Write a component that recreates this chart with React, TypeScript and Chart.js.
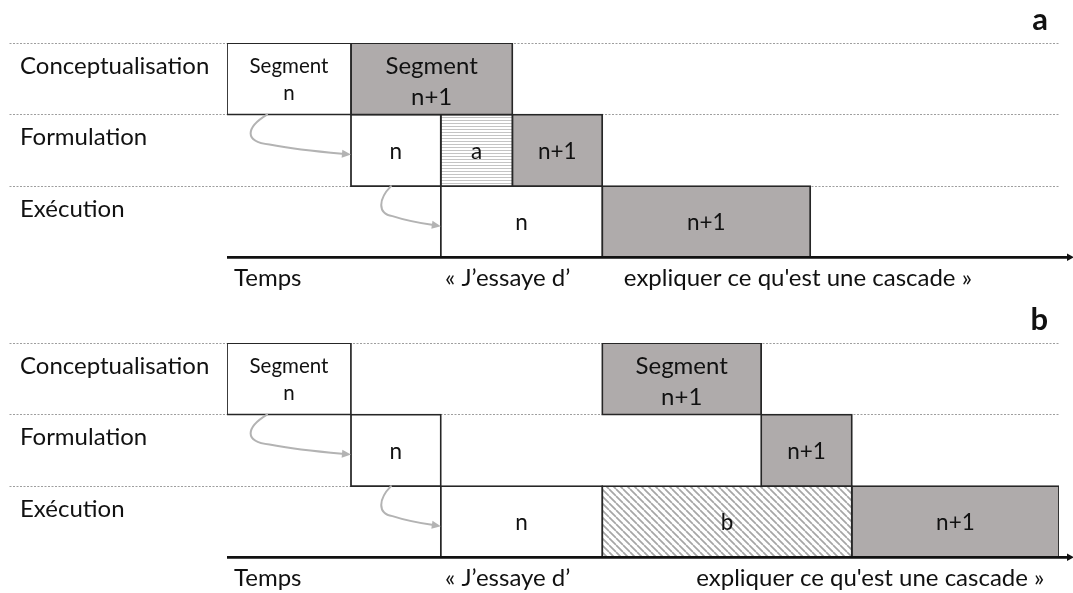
import React, { useEffect, useRef } from 'react';
import { Chart, registerables } from 'chart.js';

Chart.register(...registerables);

// ---------- data ----------
const ROWS = ['Conceptualisation', 'Formulation', 'Exécution'];
const TIME_MIN = 0;
const TIME_MAX = 100;

// panel a : one entry per box
const A_ROW = [0, 0, 1, 1, 1, 2, 2];
const A_START = [0, 14.9, 14.9, 25.7, 34.3, 25.7, 45.1];
const A_END = [14.9, 34.3, 25.7, 34.3, 45.1, 45.1, 70.1];
const A_TEXT = ['Segment\nn', 'Segment\nn+1', 'n', 'a', 'n+1', 'n', 'n+1'];
const A_KIND = ['current', 'next', 'current', 'pauseA', 'next', 'current', 'next'];
const A_WORD_AT = [0.84, 26.2, 47.7];
const A_WORDS = ['Temps', '« J’essaye d’', "expliquer ce qu'est une cascade »"];

// panel b : one entry per box
const B_ROW = [0, 0, 1, 1, 2, 2, 2];
const B_START = [0, 45.1, 14.9, 64.2, 25.7, 45.1, 75.1];
const B_END = [14.9, 64.2, 25.7, 75.1, 45.1, 75.1, 100];
const B_TEXT = ['Segment\nn', 'Segment\nn+1', 'n', 'n+1', 'n', 'b', 'n+1'];
const B_KIND = ['current', 'next', 'current', 'next', 'current', 'pauseB', 'next'];
const B_WORD_AT = [0.84, 26.2, 56.4];
const B_WORDS = ['Temps', '« J’essaye d’', "expliquer ce qu'est une cascade »"];

// ---------- styles ----------
const FONT = 'Lato, "Open Sans", sans-serif';
const TEXT = '#111111';
const GRAY = '#afabab';
const BORDER = '#262626';
const ARROW = '#b3b3b3';

function hatchH(): CanvasPattern | string {
  const c = document.createElement('canvas');
  c.width = 4;
  c.height = 3;
  const g = c.getContext('2d');
  if (!g) return '#eee';
  g.fillStyle = '#ffffff';
  g.fillRect(0, 0, 4, 3);
  g.fillStyle = '#c4c4c4';
  g.fillRect(0, 0, 4, 1);
  return g.createPattern(c, 'repeat') || '#eee';
}

function hatchD(): CanvasPattern | string {
  const s = 7;
  const c = document.createElement('canvas');
  c.width = s;
  c.height = s;
  const g = c.getContext('2d');
  if (!g) return '#ddd';
  g.fillStyle = '#ffffff';
  g.fillRect(0, 0, s, s);
  g.strokeStyle = '#a6a6a6';
  g.lineWidth = 1.7;
  g.beginPath();
  g.moveTo(0, 0);
  g.lineTo(s, s);
  g.moveTo(-s, 0);
  g.lineTo(0, s);
  g.moveTo(s, 0);
  g.lineTo(2 * s, s);
  g.stroke();
  return g.createPattern(c, 'repeat') || '#ddd';
}

function drawArrow(ctx: CanvasRenderingContext2D, sx: number, sy: number, ex: number, ey: number) {
  const W = ex - sx;
  const H = ey - sy;
  const P = (u: number, v: number) => [sx + u * W, sy + v * H];
  const [c1x, c1y] = P(-0.25, 0.32);
  const [c2x, c2y] = P(-0.28, 0.68);
  const [mx, my] = P(0.03, 0.75);
  const [qx, qy] = P(0.35, 0.88);
  const ang = Math.atan2(ey - qy, ex - qx);
  const hl = 9;
  const hw = 4;
  const bx = ex - hl * Math.cos(ang);
  const by = ey - hl * Math.sin(ang);
  ctx.save();
  ctx.strokeStyle = ARROW;
  ctx.fillStyle = ARROW;
  ctx.lineWidth = 2;
  ctx.lineCap = 'round';
  ctx.beginPath();
  ctx.moveTo(sx, sy);
  ctx.bezierCurveTo(c1x, c1y, c2x, c2y, mx, my);
  ctx.quadraticCurveTo(qx, qy, bx, by);
  ctx.stroke();
  ctx.beginPath();
  ctx.moveTo(ex, ey);
  ctx.lineTo(bx - hw * Math.sin(ang), by + hw * Math.cos(ang));
  ctx.lineTo(bx + hw * Math.sin(ang), by - hw * Math.cos(ang));
  ctx.closePath();
  ctx.fill();
  ctx.restore();
}

type PanelProps = {
  letter: string;
  top: number;
  rows: number[];
  starts: number[];
  ends: number[];
  texts: string[];
  kinds: string[];
  wordAt: number[];
  words: string[];
};

function Panel(props: PanelProps) {
  const ref = useRef<HTMLCanvasElement | null>(null);

  useEffect(() => {
    const canvas = ref.current;
    if (!canvas) return;
    const { letter, rows, starts, ends, texts, kinds, wordAt, words } = props;
    const fills: Record<string, any> = {
      current: '#ffffff',
      next: GRAY,
      pauseA: hatchH(),
      pauseB: hatchD(),
    };

    const datasets = rows.map((r, i) => ({
      label: texts[i],
      data: ROWS.map((_, k) => (k === r ? [starts[i], ends[i]] : null)),
      backgroundColor: fills[kinds[i]],
      borderColor: BORDER,
      borderWidth: 1.8,
      borderSkipped: false,
      inflateAmount: 0.9,
      grouped: false,
      barPercentage: 1,
      categoryPercentage: 1,
    }));

    const decor = {
      id: 'decor',
      afterDatasetsDraw(chart: any) {
        const ctx: CanvasRenderingContext2D = chart.ctx;
        const area = chart.chartArea;
        const boxes = rows.map((r, i) => {
          const el = chart.getDatasetMeta(i).data[r];
          const p = el.getProps(['x', 'y', 'base', 'height'], true);
          return {
            row: r,
            kind: kinds[i],
            text: texts[i],
            left: Math.min(p.x, p.base),
            right: Math.max(p.x, p.base),
            top: p.y - p.height / 2,
            bottom: p.y + p.height / 2,
            cx: (p.x + p.base) / 2,
            cy: p.y,
          };
        });

        // arrows between the "current" segment boxes
        for (let r = 0; r < ROWS.length - 1; r++) {
          const a = boxes.find((b) => b.row === r && b.kind === 'current');
          const b = boxes.find((bb) => bb.row === r + 1 && bb.kind === 'current');
          if (a && b) drawArrow(ctx, a.left + 40, a.bottom, b.left, a.bottom + 40);
        }

        // labels inside boxes
        ctx.save();
        ctx.fillStyle = TEXT;
        ctx.textAlign = 'center';
        ctx.textBaseline = 'alphabetic';
        boxes.forEach((b) => {
          const lines = b.text.split('\n');
          if (lines.length > 1) {
            const small = b.kind === 'current';
            const size = small ? 20.5 : 24;
            const offs = small ? [-5.5, 21] : [-5, 26];
            ctx.font = `${size}px ${FONT}`;
            lines.forEach((ln, k) => ctx.fillText(ln, b.cx, b.cy + offs[k]));
          } else {
            ctx.font = `22.5px ${FONT}`;
            ctx.fillText(b.text, b.cx, b.cy + 8.5);
          }
        });
        ctx.restore();

        // time axis with arrow head
        ctx.save();
        const y = area.bottom - 0.4;
        ctx.strokeStyle = '#111';
        ctx.fillStyle = '#111';
        ctx.lineWidth = 2.7;
        ctx.beginPath();
        ctx.moveTo(area.left, y);
        ctx.lineTo(chart.width - 5, y);
        ctx.stroke();
        ctx.beginPath();
        ctx.moveTo(chart.width - 6, y - 3.8);
        ctx.lineTo(chart.width + 1, y);
        ctx.lineTo(chart.width - 6, y + 3.8);
        ctx.closePath();
        ctx.fill();
        ctx.restore();

        // panel letter
        ctx.save();
        ctx.fillStyle = TEXT;
        ctx.font = `bold 31px ${FONT}`;
        ctx.textAlign = 'right';
        ctx.textBaseline = 'alphabetic';
        ctx.fillText(letter, 1048, 29.5);
        ctx.restore();
      },
    };

    const chart = new Chart(canvas, {
      type: 'bar',
      data: { labels: ROWS, datasets: datasets as any },
      options: {
        indexAxis: 'y',
        responsive: false,
        animation: false,
        events: [],
        layout: { padding: { left: 20, right: 14, top: 43, bottom: 0 } },
        plugins: {
          legend: { display: false },
          tooltip: { enabled: false },
          title: { display: false },
        },
        scales: {
          x: {
            type: 'linear',
            position: 'bottom',
            min: TIME_MIN,
            max: TIME_MAX,
            grid: { display: false, drawTicks: false },
            border: { display: false },
            afterBuildTicks: (s: any) => {
              s.ticks = wordAt.map((v) => ({ value: v }));
            },
            afterFit: (s: any) => {
              s.height = 300 - 257.7;
              s.paddingLeft = 0;
              s.paddingRight = 0;
            },
            ticks: {
              align: 'start',
              autoSkip: false,
              maxRotation: 0,
              minRotation: 0,
              padding: 6.3,
              color: TEXT,
              font: { family: FONT, size: 24 },
              callback: (_v: any, i: number) => words[i],
            },
          },
          y: {
            type: 'category',
            position: 'left',
            offset: true,
            grid: {
              offset: true,
              drawOnChartArea: true,
              drawTicks: true,
              tickLength: 217.5,
              lineWidth: 1,
              color: (c: any) => (c.type === 'tick' ? '#9e9e9e' : 'rgba(0,0,0,0)'),
              tickColor: (c: any) => (c.type === 'tick' ? '#9e9e9e' : 'rgba(0,0,0,0)'),
              tickBorderDash: [2, 1.5],
            },
            border: { display: false, dash: [2, 1.5] },
            afterFit: (s: any) => {
              s.width = 207;
            },
            ticks: {
              crossAlign: 'far',
              labelOffset: -13,
              autoSkip: false,
              color: TEXT,
              font: { family: FONT, size: 24 },
            },
          },
        },
      } as any,
      plugins: [decor],
    });

    return () => chart.destroy();
  }, []);

  return (
    <canvas
      ref={ref}
      width={1073}
      height={300}
      style={{ display: 'block', position: 'absolute', left: 0, top: props.top }}
    />
  );
}

export default function App() {
  return (
    <div
      style={{
        position: 'fixed',
        left: 0,
        top: 0,
        width: 1073,
        height: 593,
        overflow: 'hidden',
        background: '#ffffff',
      }}
    >
      <Panel
        letter="a"
        top={0}
        rows={A_ROW}
        starts={A_START}
        ends={A_END}
        texts={A_TEXT}
        kinds={A_KIND}
        wordAt={A_WORD_AT}
        words={A_WORDS}
      />
      <Panel
        letter="b"
        top={300}
        rows={B_ROW}
        starts={B_START}
        ends={B_END}
        texts={B_TEXT}
        kinds={B_KIND}
        wordAt={B_WORD_AT}
        words={B_WORDS}
      />
    </div>
  );
}
